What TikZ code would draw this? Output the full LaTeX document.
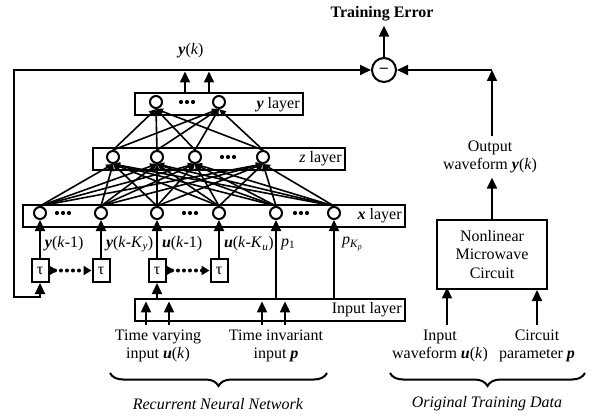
\documentclass[tikz,border=0pt]{standalone}
\usepackage{fontspec}
\setmainfont{Liberation Serif}
\usetikzlibrary{positioning, arrows.meta, decorations.pathreplacing}
\newcommand{\bvar}[1]{\textbf{\textit{#1}}}
\newcommand{\kvar}{\textit{k}}
\newcommand{\dotrow}[2]{\foreach \dd in {-6,0,6} \fill (#1+\dd,#2) circle (2.1pt);}
\tikzset{
  >={Triangle[length=11pt,width=10pt]},
  neuron/.style={circle, draw, fill=white, line width=2pt, inner sep=0pt, minimum size=12pt},
  layerbox/.style={draw, line width=2pt, minimum height=22pt, inner sep=0pt},
  taubox/.style={draw, line width=2pt, minimum width=17pt, minimum height=23pt, inner sep=0pt},
  syn/.style={line width=1.6pt, -{Triangle[length=7pt,width=6pt]}},
  dotarrow/.style={line width=4pt, line cap=round, dash pattern=on 0pt off 6pt,
    {Triangle[reversed,length=8pt,width=9pt]}-{Triangle[length=8pt,width=9pt]}},
  braceline/.style={decorate, decoration={brace, mirror, amplitude=13pt}, line width=2pt},
}

\begin{document}
\begin{tikzpicture}[x=1pt, y=-1pt, line width=2pt, font=\fontsize{16}{18.5}\selectfont]
\useasboundingbox (0,0) rectangle (592,417);

% layers
\node[layerbox, minimum width=168pt] (ybox) at (219,104.5) {};
\node[layerbox, minimum width=252pt] (zbox) at (219,159) {};
\node[layerbox, minimum width=382pt] (xbox) at (214,216) {};
\node[layerbox, minimum width=270pt] (inbox) at (270,310) {};
\node[anchor=east] (ylbl) at (ybox.east) {\bvar{y} layer};
\node[anchor=east] (zlbl) at (zbox.east) {\textit{z} layer};
\node[anchor=east] (xlbl) at (xbox.east) {\bvar{x} layer};
\node[anchor=east] (inlbl) at (inbox.east) {Input layer};

% neurons
\foreach \name/\xx in {y1/156, y2/219}
  \node[neuron] (\name) at (\xx,102) {};
\foreach \name/\xx in {z1/113, z2/157, z3/195, z4/263}
  \node[neuron] (\name) at (\xx,157) {};
\foreach \name/\xx in {x1/40, x2/101, x3/157, x4/219, x5/276, x6/334}
  \node[neuron] (\name) at (\xx,213) {};
\dotrow{187}{102}
\dotrow{228}{157}
\dotrow{63}{213}
\dotrow{190}{213}
\dotrow{301}{213}

\foreach \a in {z1,z2,z3,z4}
  \foreach \b in {y1,y2}
    \draw[syn] (\a.north) -- (\b.south);
\foreach \a in {x1,x2,x3,x4,x5,x6}
  \foreach \b in {z1,z2,z3,z4}
    \draw[syn] (\a.north) -- (\b.south);

% delays
\foreach \name/\xx in {t1/40, t2/101, t3/157, t4/219}
  \node[taubox] (\name) at (\xx,270.5) {τ};
\draw[dotarrow] (t1) -- (t2);
\draw[dotarrow] (t3) -- (t4);
\foreach \i/\j in {t1/x1, t2/x2, t3/x3, t4/x4}
  \draw[->] (\i) -- (\j);
\draw[->] (inbox.north -| t3) -- (t3);
\draw[->] (inbox.north -| x5) -- (x5);
\draw[->] (inbox.north -| x6) -- (x6);

\node[anchor=west, inner sep=1pt] (lyk1) at (43,244) {\bvar{y}(\kvar-1)};
\node[anchor=west, inner sep=1pt] (lykq) at (104,244) {\bvar{y}(\kvar-\textit{K}\textsubscript{\textit{y}})};
\node[anchor=west, inner sep=1pt] (luk1) at (160,244) {\bvar{u}(\kvar-1)};
\node[anchor=west, inner sep=1pt] (lukq) at (222,244) {\bvar{u}(\kvar-\textit{K}\textsubscript{\textit{u}})};
\node[anchor=west, inner sep=1pt] (lp1) at (279,244) {\textit{p}\textsubscript{1}};
\node[anchor=west, inner sep=1pt] (lpk) at (340,244) {\textit{p}\textsubscript{\textit{K}\textsubscript{\textit{p}}}};

% inputs
\node[align=center] (tvin) at (158,346) {Time varying\\input \bvar{u}(\kvar)};
\node[align=center] (tiin) at (276,346) {Time invariant\\input \bvar{p}};
\draw[->] ([xshift=-12pt]tvin.north) -- ++(0,-24);
\draw[->] ([xshift=11pt]tvin.north) -- ++(0,-24);
\draw[->] ([xshift=-14pt]tiin.north) -- ++(0,-24);
\draw[->] ([xshift=9pt]tiin.north) -- ++(0,-24);

% outputs and feedback
\node (yk) at (191,51) {\bvar{y}(\kvar)};
\draw[->] ([xshift=-34pt]ybox.north) -- ++(0,-21);
\draw[->] ([xshift=-10pt]ybox.north) -- ++(0,-21);
\node[circle, draw, line width=2pt, minimum size=24pt, inner sep=0pt] (minus) at (384,70) {\textbf{–}};
\node (err) at (382,14) {\textbf{Training Error}};
\draw[->] (minus.north) -- (minus.north |- err.south);
\coordinate (fbtop) at (14,70);
\coordinate (fbbot) at (14,297);
\draw[<->] (minus) -- (fbtop) -- (fbbot) -| (t1);

% training data
\node[draw, align=center, line width=2pt, minimum width=110pt, minimum height=69pt] (nmc) at (492,254.5) {Nonlinear\\Microwave\\Circuit};
\node[align=center] (outw) at (490,157) {Output\\waveform \bvar{y}(\kvar)};
\node[align=center] (inwf) at (440,346) {Input\\waveform \bvar{u}(\kvar)};
\node[align=center] (cpar) at (537,346) {Circuit\\parameter \bvar{p}};
\draw[->] ([xshift=7pt]inwf.north) -- ++(0,-38);
\draw[->] (cpar.north) -- (cpar.north |- nmc.south);
\draw[->] (nmc.north) -- (nmc.north |- outw.south);
\coordinate (outc) at (492,70);
\draw[->] (outw.north -| nmc.north) -- (outc);
\draw[->] (outc) -- (minus);

% braces
\coordinate (rnnL) at (110,373);
\coordinate (rnnR) at (327,373);
\coordinate (otdL) at (390,373);
\coordinate (otdR) at (585,373);
\draw[braceline] (rnnL) -- (rnnR);
\draw[braceline] (otdL) -- (otdR);
\node (rnn) at (218,404) {\textit{Recurrent Neural Network}};
\node (otd) at (487,404) {\textit{Original Training Data}};
\end{tikzpicture}
\end{document}
